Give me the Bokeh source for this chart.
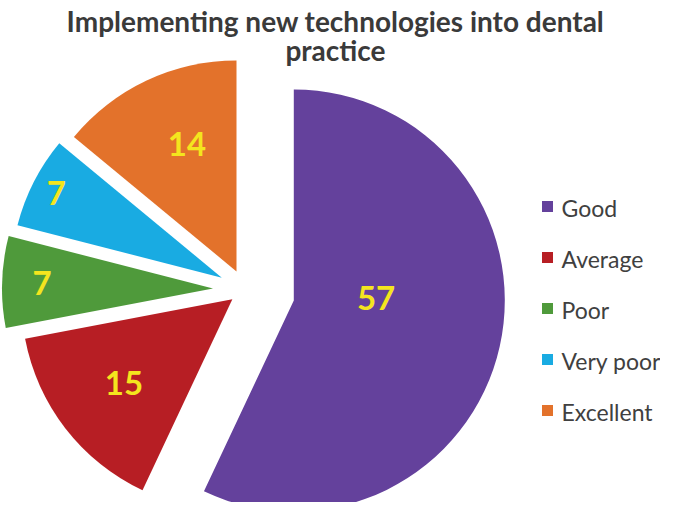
import math
from bokeh.plotting import figure
from bokeh.models import Range1d, ColumnDataSource
from bokeh.core.properties import value
from bokeh.embed import file_html
from bokeh.resources import INLINE

# ---- data ----
title_lines = ["Implementing new technologies into dental", "practice"]
categories = ["Good", "Average", "Poor", "Very poor", "Excellent"]
values = [57, 15, 7, 7, 14]

# ---- style ----
colors = ["#64419C", "#B71E24", "#4F9A3B", "#19ABE2", "#E3722B"]
explode_px = [50, 16, 32, 26, 20]             # per-slice explosion distance
label_rfrac = [0.39, 0.65, 0.81, 0.88, 0.65]  # label radial position (fraction of radius)
label_dang = [-14, 0, 0, 0, 4]                # label angle shift (deg)

W, H = 660, 502
p = figure(width=W, height=H, output_backend="svg", toolbar_location=None,
           x_range=Range1d(0, W), y_range=Range1d(518 - H, 518),
           x_axis_type=None, y_axis_type=None, min_border=0)
p.outline_line_color = None
p.grid.visible = False
p.background_fill_color = "white"
p.border_fill_color = "white"

def Y(yimg):  # top-down pixel y -> data y (bottom-up)
    return 518 - yimg

cx, cy = 244.5, Y(289)
R = 211
total = sum(values)

xs, ys, starts, ends, lx, ly, labels = [], [], [], [], [], [], []
cum = 0.0
for i, v in enumerate(values):
    t1 = cum / total * 360.0
    t2 = (cum + v) / total * 360.0
    cum += v
    mid = math.radians((t1 + t2) / 2)
    ax = cx + explode_px[i] * math.sin(mid)
    ay = cy + explode_px[i] * math.cos(mid)
    xs.append(ax); ys.append(ay)
    starts.append(math.radians(90 - t2)); ends.append(math.radians(90 - t1))
    la = math.radians((t1 + t2) / 2 + label_dang[i])
    lx.append(ax + label_rfrac[i] * R * math.sin(la))
    ly.append(ay + label_rfrac[i] * R * math.cos(la))
    labels.append(str(v))

src = ColumnDataSource(dict(x=xs, y=ys, start=starts, end=ends, color=colors,
                            lx=lx, ly=ly, label=labels))
p.wedge(x="x", y="y", radius=R, start_angle="start", end_angle="end",
        fill_color="color", line_color=None, source=src)
p.text(x="lx", y="ly", text="label", source=src, text_color="#F4E51E",
       text_font=value("Lato"), text_font_style="bold", text_font_size="33px",
       text_align="center", text_baseline="middle")

# title
tsrc = ColumnDataSource(dict(x=[335, 335], y=[Y(20), Y(49)], t=title_lines))
p.text(x="x", y="y", text="t", source=tsrc, text_color="#3A3A3A",
       text_font=value("Lato"), text_font_style="bold", text_font_size="28px",
       text_align="center", text_baseline="alphabetic")

# legend
leg_y = [Y(206 + 51 * i) for i in range(len(categories))]
lsrc = ColumnDataSource(dict(x=[547] * len(categories), y=leg_y, c=colors,
                             tx=[561] * len(categories),
                             ty=[yy - 1 for yy in leg_y], t=categories))
p.scatter(x="x", y="y", marker="square", size=11, fill_color="c", line_color=None, source=lsrc)
p.text(x="tx", y="ty", text="t", source=lsrc, text_color="#404040",
       text_font=value("Lato"), text_font_size="23px",
       text_align="left", text_baseline="alphabetic")

open("out.html", "w").write(file_html(p, INLINE))
